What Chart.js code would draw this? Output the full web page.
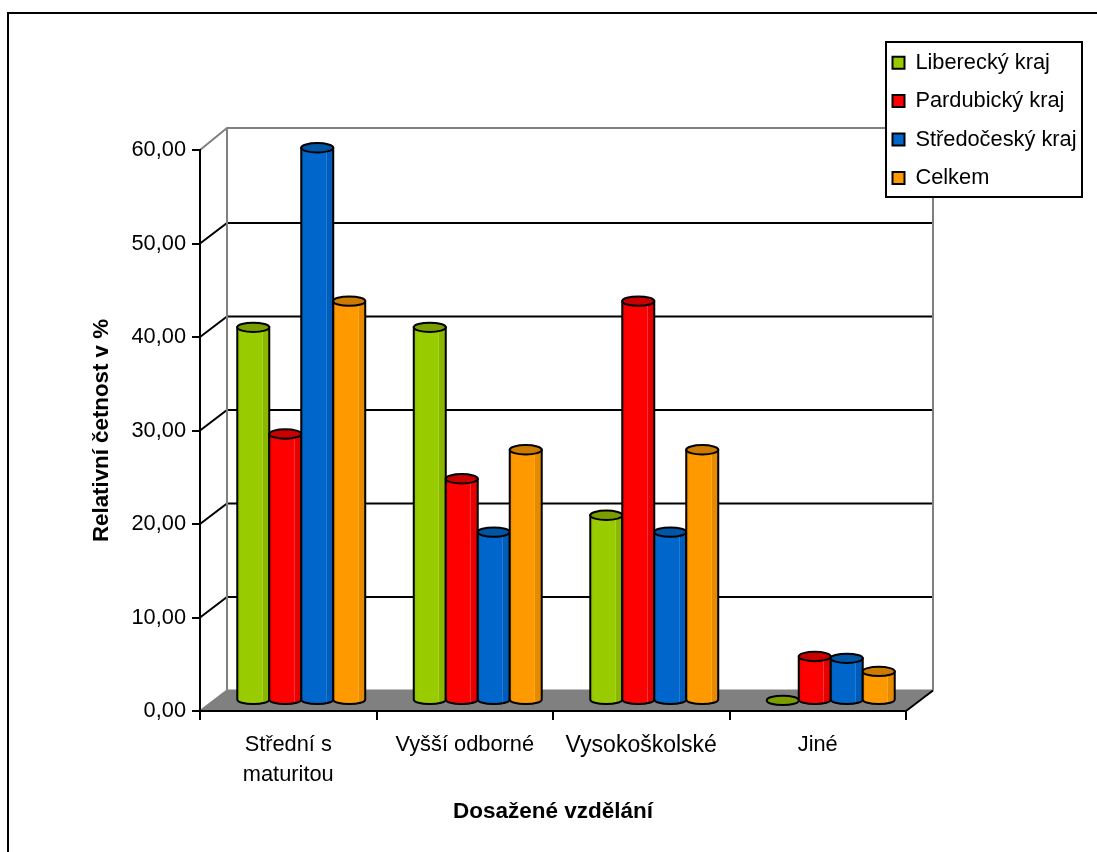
<!DOCTYPE html>
<html>
<head>
<meta charset="utf-8">
<title>Dosažené vzdělání</title>
<script src="https://cdn.jsdelivr.net/npm/chart.js@4/dist/chart.umd.min.js"></script>
<style>
  html, body { margin: 0; padding: 0; background: #fff; overflow: hidden; }
  canvas { display: block; }
</style>
</head>
<body>
<canvas id="vzdelaniChart" width="1097" height="852"></canvas>
<script>
// Values
const categories = [['Střední s', 'maturitou'], 'Vyšší odborné', 'Vysokoškolské', 'Jiné'];
const seriesNames = ['Liberecký kraj', 'Pardubický kraj', 'Středočeský kraj', 'Celkem'];
const liberecky = [39.9, 39.9, 19.8, 0.0];
const pardubicky = [28.5, 23.7, 42.7, 4.7];
const stredocesky = [59.1, 18.0, 18.0, 4.5];
const celkem = [42.7, 26.8, 26.8, 3.1];

const seriesValues = [liberecky, pardubicky, stredocesky, celkem];
const baseColors = ['#99cc00', '#ff0000', '#0066cc', '#ff9900'];
const darkColors = ['#8ab800', '#e60000', '#005cb8', '#e68a00'];
const lightColors = ['#a6d21f', '#ff3333', '#1f7dd6', '#ffa71f'];
const capColors = ['#7a9e00', '#c80000', '#0055a5', '#cc7a00'];

// 3D look: how far the back wall sits from the front axes, and where the bars stand
const wallDx = 27;
const wallDy = 20.5;
const wallTopDy = 22;
const barDx = 13;
const barDy = 10.6;
const capRy = 4.7;

// walls, floor and outer frame go under everything else
const walls = {
  id: 'walls',
  afterLayout(chart) {
    const legend = chart.legend;
    legend.left = 875.9;
    legend.top = 35.2;
    legend.right = 1097;
    legend.bottom = 852;
  },
  beforeDraw(chart) {
    const ctx = chart.ctx;
    const yScale = chart.scales.y;
    const area = chart.chartArea;
    const floorY = yScale.getPixelForValue(0);

    ctx.save();
    ctx.lineWidth = 2;
    ctx.strokeStyle = '#000';
    ctx.strokeRect(8, 13, 1300, 1000);

    // floor
    ctx.fillStyle = '#808080';
    ctx.beginPath();
    ctx.moveTo(area.left, floorY);
    ctx.lineTo(area.left + wallDx, floorY - wallDy);
    ctx.lineTo(area.right + wallDx, floorY - wallDy);
    ctx.lineTo(area.right, floorY);
    ctx.closePath();
    ctx.fill();

    // gridlines on the back and left walls
    yScale.ticks.forEach(function (tick) {
      const py = yScale.getPixelForValue(tick.value);
      const isTop = tick.value === yScale.max;
      const dy = isTop ? wallTopDy : wallDy;
      ctx.strokeStyle = (isTop || tick.value === 0) ? '#808080' : '#000';
      ctx.beginPath();
      ctx.moveTo(area.left, py);
      ctx.lineTo(area.left + wallDx, py - dy);
      ctx.lineTo(area.right + wallDx, py - dy);
      ctx.stroke();
    });

    ctx.strokeStyle = '#808080';
    ctx.beginPath();
    ctx.moveTo(area.left + wallDx, area.top - wallTopDy);
    ctx.lineTo(area.left + wallDx, floorY - wallDy);
    ctx.moveTo(area.right + wallDx, area.top - wallTopDy);
    ctx.lineTo(area.right + wallDx, floorY - wallDy);
    ctx.stroke();

    ctx.strokeStyle = '#000';
    ctx.beginPath();
    ctx.moveTo(area.right, floorY);
    ctx.lineTo(area.right + wallDx, floorY - wallDy);
    ctx.stroke();

    // legend box, the legend itself is drawn on top of it
    ctx.fillStyle = '#fff';
    ctx.fillRect(886, 42, 196, 155);
    ctx.strokeStyle = '#000';
    ctx.strokeRect(886, 42, 196, 155);
    ctx.restore();
  }
};

// bars stand in the middle of the floor, caps and shading are added over them
const cylinders = {
  id: 'cylinders',
  beforeDatasetDraw(chart) {
    chart.ctx.save();
    chart.ctx.translate(barDx, -barDy);
  },
  afterDatasetDraw(chart) {
    chart.ctx.restore();
  },
  afterDatasetsDraw(chart) {
    const ctx = chart.ctx;
    ctx.save();
    ctx.translate(barDx, -barDy);
    ctx.lineWidth = 2;
    ctx.strokeStyle = '#000';
    seriesValues.forEach(function (values, s) {
      chart.getDatasetMeta(s).data.forEach(function (bar, i) {
        const p = bar.getProps(['x', 'y', 'base', 'width'], true);
        const rx = p.width / 2;
        const left = p.x - rx;
        const right = p.x + rx;
        if (values[i] > 0) {
          const shade = ctx.createLinearGradient(left, 0, right, 0);
          shade.addColorStop(0, darkColors[s]);
          shade.addColorStop(0.1, baseColors[s]);
          shade.addColorStop(0.76, baseColors[s]);
          shade.addColorStop(0.77, lightColors[s]);
          shade.addColorStop(0.79, lightColors[s]);
          shade.addColorStop(0.8, darkColors[s]);
          shade.addColorStop(1, darkColors[s]);
          ctx.fillStyle = shade;
          ctx.beginPath();
          ctx.moveTo(left, p.y);
          ctx.lineTo(left, p.base);
          ctx.ellipse(p.x, p.base, rx, capRy, 0, Math.PI, 0, true);
          ctx.lineTo(right, p.y);
          ctx.closePath();
          ctx.fill();
          ctx.stroke();
        }
        ctx.fillStyle = capColors[s];
        ctx.beginPath();
        ctx.ellipse(p.x, p.y, rx, capRy, 0, 0, Math.PI * 2);
        ctx.fill();
        ctx.stroke();
      });
    });
    ctx.restore();
  }
};

const datasets = seriesNames.map(function (name, s) {
  return {
    label: name,
    data: seriesValues[s],
    backgroundColor: baseColors[s],
    borderColor: '#000',
    borderWidth: 2,
    clip: false,
    categoryPercentage: 0.725,
    barPercentage: 1
  };
});

Chart.defaults.font.family = '"Liberation Sans", Arial, sans-serif';
Chart.defaults.color = '#000';

new Chart(document.getElementById('vzdelaniChart'), {
  type: 'bar',
  data: { labels: categories, datasets: datasets },
  plugins: [walls, cylinders],
  options: {
    responsive: false,
    animation: false,
    layout: { padding: { top: 150, right: 191, left: 0, bottom: 0 } },
    plugins: {
      tooltip: { enabled: false },
      legend: {
        position: 'chartArea',
        align: 'start',
        labels: {
          boxWidth: 12,
          boxHeight: 12,
          padding: 16.6,
          font: { size: 21.8 }
        }
      }
    },
    scales: {
      x: {
        afterFit: function (scale) { scale.height = 141; },
        grid: { drawOnChartArea: false, color: '#000', lineWidth: 2, tickLength: 9 },
        border: { color: '#000', width: 2 },
        ticks: {
          font: function (ctx) {
            // Vysokoškolské is set noticeably wider in the original
            return { size: ctx.index === 2 ? 23 : 21.8, lineHeight: 1.38 };
          },
          padding: 10,
          maxRotation: 0,
          autoSkip: false
        },
        title: {
          display: true,
          text: 'Dosažené vzdělání',
          font: { size: 22.5, weight: 'bold' },
          padding: { top: 0, bottom: 26.5 }
        }
      },
      y: {
        min: 0,
        max: 60,
        afterFit: function (scale) { scale.width = 200; },
        grid: { drawOnChartArea: false, color: '#000', lineWidth: 2, tickLength: 8 },
        border: { color: '#000', width: 2 },
        ticks: {
          stepSize: 10,
          font: { size: 21.8 },
          padding: 6,
          callback: function (value) { return value.toFixed(2).replace('.', ','); }
        },
        title: {
          display: true,
          text: 'Relativní četnost v %',
          font: { size: 22.3, weight: 'bold' },
          padding: { top: 88, bottom: 0 }
        }
      }
    }
  }
});
</script>
</body>
</html>
